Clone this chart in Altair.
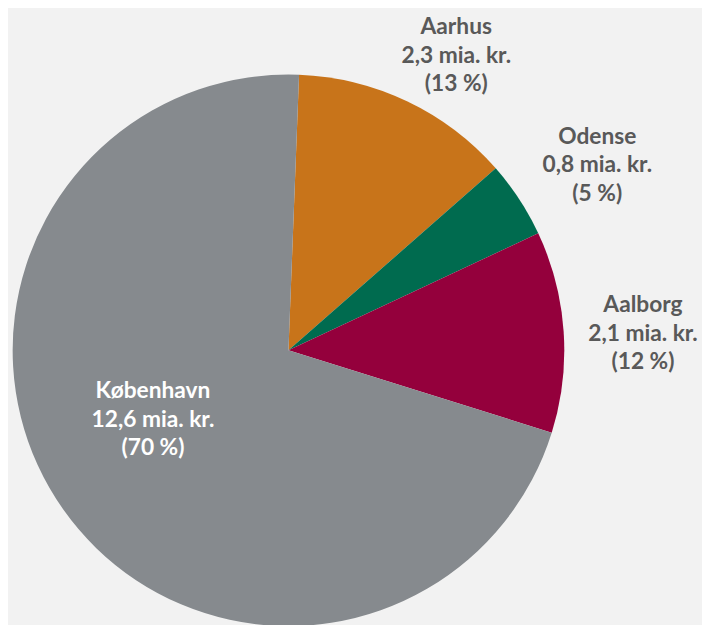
import math
import altair as alt
import pandas as pd

# ---- data ----
cities = ["Aarhus", "Odense", "Aalborg", "København"]
values = [2.3, 0.8, 2.1, 12.6]              # mia. kr.
value_labels = ["2,3", "0,8", "2,1", "12,6"]
pct_labels = ["13 %", "5 %", "12 %", "70 %"]

# ---- styling ----
colors = ["#C8741A", "#006B4F", "#94003C", "#868A8E"]
text_colors = ["#595959", "#595959", "#595959", "#FFFFFF"]
start_deg = 2.2
label_nudge_deg = [4.2, 2.3, 1.2, 8.1]     # label placement tweaks
label_radius = [343, 364, 359, 154]
cx, cy, R = 283.7, 342.7, 279
line_h = 29

total = sum(values)
cum = 0.0
mids = []
for v in values:
    mids.append(cum + v / 2)
    cum += v

df = pd.DataFrame({
    "city": cities,
    "value": values,
    "idx": list(range(len(cities))),
    "label": [f"{c}\n{v} mia. kr.\n({p})" for c, v, p in zip(cities, value_labels, pct_labels)],
    "tcolor": text_colors,
    "ltheta": [math.radians(start_deg + m / total * 360 + n) for m, n in zip(mids, label_nudge_deg)],
    "lr": label_radius,
})

start = math.radians(start_deg)
arcs = alt.Chart(df).mark_arc(outerRadius=R).encode(
    theta=alt.Theta("value:Q", stack=True, scale=alt.Scale(range=[start, start + 2 * math.pi])),
    color=alt.Color("city:N", scale=alt.Scale(domain=cities, range=colors), legend=None),
    order=alt.Order("idx:Q"),
    x=alt.value(cx),
    y=alt.value(cy),
)

labels = alt.Chart(df).mark_text(
    font="Lato", fontWeight="bold", fontSize=23, lineBreak="\n", lineHeight=line_h,
    align="center", baseline="middle", dy=-line_h,
).encode(
    theta=alt.Theta("ltheta:Q", stack=False, scale=None),
    radius=alt.Radius("lr:Q", scale=None),
    text="label:N",
    color=alt.Color("tcolor:N", scale=None),
    x=alt.value(cx),
    y=alt.value(cy),
)

chart = alt.layer(arcs, labels).resolve_scale(theta="independent").properties(
    width=702, height=617,
    autosize=alt.AutoSizeParams(type="none"),
    padding=0,
    background="#F2F2F2",
).configure_view(stroke=None)

chart.save("out.html", embed_options={"renderer": "svg", "actions": False})
